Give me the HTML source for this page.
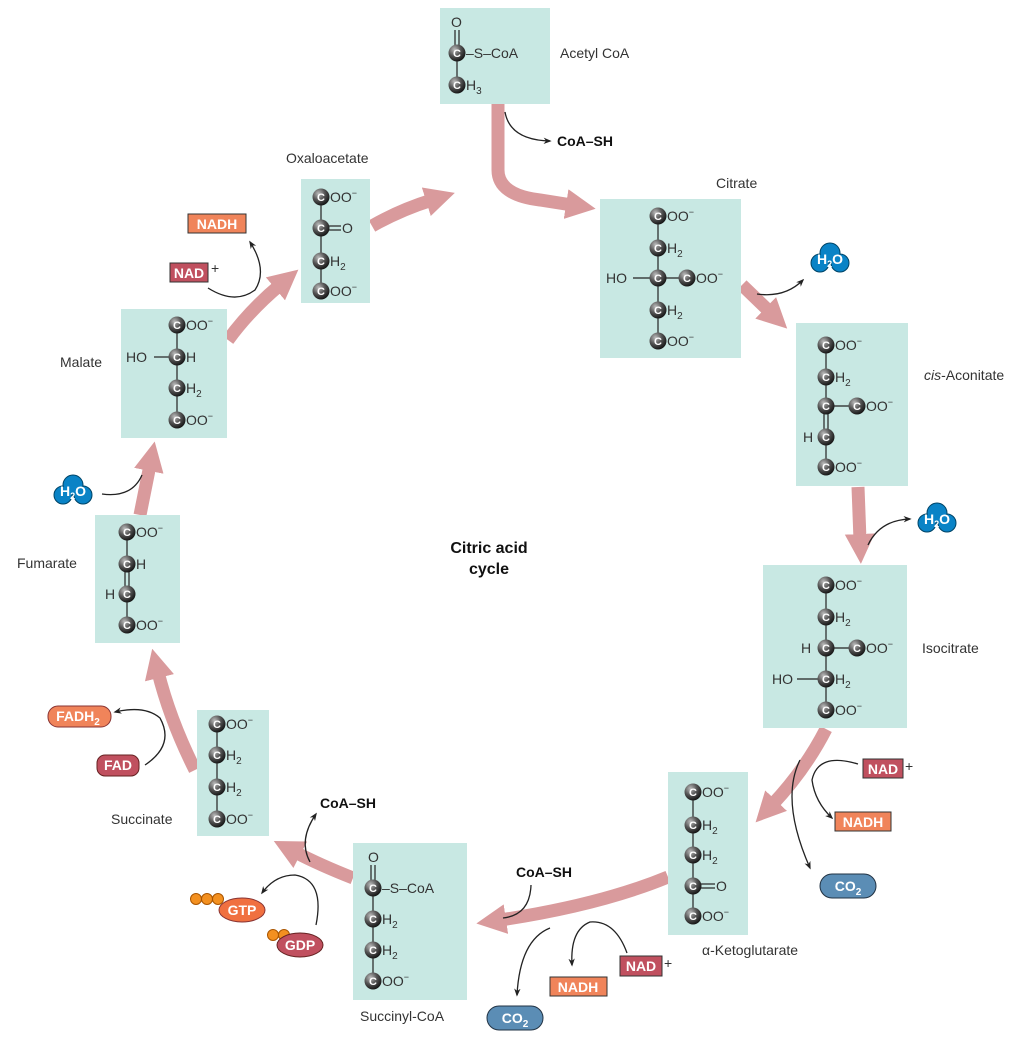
<!DOCTYPE html>
<html><head><meta charset="utf-8"><style>
html,body{margin:0;padding:0;background:#fff}
svg{display:block}
.c{font:bold 11px "Liberation Sans",sans-serif;fill:#fff;text-anchor:middle}
.t{font:14px "Liberation Sans",sans-serif;fill:#333}
.l{font:14px "Liberation Sans",sans-serif;fill:#333}
.b{font:bold 14px "Liberation Sans",sans-serif;fill:#111}
.w{font:bold 14px "Liberation Sans",sans-serif;fill:#fff;text-anchor:middle}
.box{fill:#c8e8e3}
.bond{stroke:#222;stroke-width:1.2}
.pk{fill:none;stroke:#d99a9c;stroke-width:13;marker-end:url(#pa)}
.bk{fill:none;stroke:#222;stroke-width:1.3;marker-end:url(#ba)}
</style></head><body>
<svg width="1026" height="1044" viewBox="0 0 1026 1044" xmlns="http://www.w3.org/2000/svg">
<defs>
<radialGradient id="g" cx="0.35" cy="0.3" r="0.75"><stop offset="0" stop-color="#bbb"/><stop offset="0.5" stop-color="#555"/><stop offset="1" stop-color="#111"/></radialGradient>
<g id="c"><circle r="8.5" fill="url(#g)"/></g>
<marker id="pa" viewBox="0 0 10 10" refX="2" refY="5" markerWidth="2.3" markerHeight="2.6" orient="auto"><path d="M0,0 L10,5 L0,10 z" fill="#d99a9c"/></marker>
<marker id="ba" viewBox="0 0 10 10" refX="8" refY="5" markerWidth="8" markerHeight="8" markerUnits="userSpaceOnUse" orient="auto"><path d="M0,1 L10,5 L0,9 L3,5 z" fill="#222"/></marker>
</defs>

<!-- pink arrows -->
<path class="pk" d="M498,104 L498,170 Q498,195 540,200 L572,205"/>
<path class="pk" d="M372,226 Q400,210 432,200"/>
<path class="pk" d="M742,285 L770,312"/>
<path class="pk" d="M858,487 L860,540"/>
<path class="pk" d="M826,729 Q805,770 772,805"/>
<path class="pk" d="M668,877 Q600,905 500,920"/>
<path class="pk" d="M353,878 Q320,865 295,852"/>
<path class="pk" d="M195,770 Q170,720 158,672"/>
<path class="pk" d="M140,515 L150,465"/>
<path class="pk" d="M228,340 Q250,310 280,285"/>

<!-- boxes -->
<rect class="box" x="440" y="8" width="110" height="96"/>
<rect class="box" x="600" y="199" width="141" height="159"/>
<rect class="box" x="796" y="323" width="112" height="163"/>
<rect class="box" x="763" y="565" width="144" height="163"/>
<rect class="box" x="668" y="772" width="80" height="163"/>
<rect class="box" x="353" y="843" width="114" height="157"/>
<rect class="box" x="197" y="710" width="72" height="126"/>
<rect class="box" x="95" y="515" width="85" height="128"/>
<rect class="box" x="121" y="309" width="106" height="129"/>
<rect class="box" x="301" y="179" width="69" height="124"/>

<!-- Acetyl CoA -->
<line class="bond" x1="455" y1="30" x2="455" y2="48"/><line class="bond" x1="459" y1="30" x2="459" y2="48"/>
<line class="bond" x1="457" y1="53" x2="457" y2="85"/>
<text class="t" x="451" y="27">O</text>
<use href="#c" x="457" y="53"/><text class="c" x="457" y="57">C</text>
<text class="t" x="466" y="58">–S–CoA</text>
<use href="#c" x="457" y="85"/><text class="c" x="457" y="89">C</text>
<text class="t" x="466" y="90">H<tspan font-size="10" dy="4">3</tspan></text>
<text class="l" x="560" y="58">Acetyl CoA</text>
<path class="bk" d="M505,112 Q510,140 550,141"/>
<text class="b" x="557" y="146">CoA–SH</text>

<!-- Citrate -->
<line class="bond" x1="658" y1="216" x2="658" y2="341"/>
<line class="bond" x1="633" y1="278" x2="687" y2="278"/>
<use href="#c" x="658" y="216"/><text class="c" x="658" y="220">C</text><text class="t" x="667" y="221">OO<tspan font-size="9" dy="-6">−</tspan></text>
<use href="#c" x="658" y="248"/><text class="c" x="658" y="252">C</text><text class="t" x="667" y="253">H<tspan font-size="10" dy="4">2</tspan></text>
<text class="t" x="606" y="283">HO</text>
<use href="#c" x="658" y="278"/><text class="c" x="658" y="282">C</text>
<use href="#c" x="687" y="278"/><text class="c" x="687" y="282">C</text><text class="t" x="696" y="283">OO<tspan font-size="9" dy="-6">−</tspan></text>
<use href="#c" x="658" y="310"/><text class="c" x="658" y="314">C</text><text class="t" x="667" y="315">H<tspan font-size="10" dy="4">2</tspan></text>
<use href="#c" x="658" y="341"/><text class="c" x="658" y="345">C</text><text class="t" x="667" y="346">OO<tspan font-size="9" dy="-6">−</tspan></text>
<text class="l" x="716" y="188">Citrate</text>
<path class="bk" d="M757,294 Q785,298 803,280"/>

<!-- cis-Aconitate -->
<line class="bond" x1="826" y1="345" x2="826" y2="406"/>
<line class="bond" x1="824" y1="406" x2="824" y2="437"/><line class="bond" x1="828" y1="406" x2="828" y2="437"/>
<line class="bond" x1="826" y1="437" x2="826" y2="467"/>
<line class="bond" x1="826" y1="406" x2="857" y2="406"/>
<use href="#c" x="826" y="345"/><text class="c" x="826" y="349">C</text><text class="t" x="835" y="350">OO<tspan font-size="9" dy="-6">−</tspan></text>
<use href="#c" x="826" y="377"/><text class="c" x="826" y="381">C</text><text class="t" x="835" y="382">H<tspan font-size="10" dy="4">2</tspan></text>
<use href="#c" x="826" y="406"/><text class="c" x="826" y="410">C</text>
<use href="#c" x="857" y="406"/><text class="c" x="857" y="410">C</text><text class="t" x="866" y="411">OO<tspan font-size="9" dy="-6">−</tspan></text>
<text class="t" x="803" y="442">H</text>
<use href="#c" x="826" y="437"/><text class="c" x="826" y="441">C</text>
<use href="#c" x="826" y="467"/><text class="c" x="826" y="471">C</text><text class="t" x="835" y="472">OO<tspan font-size="9" dy="-6">−</tspan></text>
<text class="l" x="924" y="380"><tspan font-style="italic">cis</tspan>-Aconitate</text>
<path class="bk" d="M868,545 Q880,520 910,519"/>

<!-- Isocitrate -->
<line class="bond" x1="826" y1="585" x2="826" y2="710"/>
<line class="bond" x1="826" y1="648" x2="857" y2="648"/>
<line class="bond" x1="797" y1="679" x2="818" y2="679"/>
<use href="#c" x="826" y="585"/><text class="c" x="826" y="589">C</text><text class="t" x="835" y="590">OO<tspan font-size="9" dy="-6">−</tspan></text>
<use href="#c" x="826" y="617"/><text class="c" x="826" y="621">C</text><text class="t" x="835" y="622">H<tspan font-size="10" dy="4">2</tspan></text>
<text class="t" x="801" y="653">H</text>
<use href="#c" x="826" y="648"/><text class="c" x="826" y="652">C</text>
<use href="#c" x="857" y="648"/><text class="c" x="857" y="652">C</text><text class="t" x="866" y="653">OO<tspan font-size="9" dy="-6">−</tspan></text>
<text class="t" x="772" y="684">HO</text>
<use href="#c" x="826" y="679"/><text class="c" x="826" y="683">C</text><text class="t" x="835" y="684">H<tspan font-size="10" dy="4">2</tspan></text>
<use href="#c" x="826" y="710"/><text class="c" x="826" y="714">C</text><text class="t" x="835" y="715">OO<tspan font-size="9" dy="-6">−</tspan></text>
<text class="l" x="922" y="653">Isocitrate</text>

<!-- NAD+/NADH/CO2 right -->
<path class="bk" d="M858,764 Q818,752 812,780 Q815,802 832,818"/>
<path class="bk" d="M800,760 Q780,800 810,868"/>
<rect x="863" y="759" width="40" height="19" fill="#c0505f" stroke="#333"/><text class="w" x="883" y="774">NAD</text><text class="t" x="905" y="771" fill="#27a">+</text>
<rect x="835" y="812" width="56" height="19" fill="#f0845a" stroke="#333"/><text class="w" x="863" y="827">NADH</text>
<g fill="#5b8db5" stroke="#234"><circle cx="832" cy="886" r="12"/><circle cx="864" cy="886" r="12"/><rect x="832" y="874" width="32" height="24" stroke="none"/></g>
<line x1="832" y1="874" x2="864" y2="874" stroke="#234"/><line x1="832" y1="898" x2="864" y2="898" stroke="#234"/>
<text class="w" x="848" y="891">CO<tspan font-size="10" dy="4">2</tspan></text>

<!-- alpha-KG -->
<line class="bond" x1="693" y1="792" x2="693" y2="916"/>
<line class="bond" x1="701" y1="884" x2="715" y2="884"/><line class="bond" x1="701" y1="888" x2="715" y2="888"/>
<use href="#c" x="693" y="792"/><text class="c" x="693" y="796">C</text><text class="t" x="702" y="797">OO<tspan font-size="9" dy="-6">−</tspan></text>
<use href="#c" x="693" y="825"/><text class="c" x="693" y="829">C</text><text class="t" x="702" y="830">H<tspan font-size="10" dy="4">2</tspan></text>
<use href="#c" x="693" y="855"/><text class="c" x="693" y="859">C</text><text class="t" x="702" y="860">H<tspan font-size="10" dy="4">2</tspan></text>
<use href="#c" x="693" y="886"/><text class="c" x="693" y="890">C</text><text class="t" x="716" y="891">O</text>
<use href="#c" x="693" y="916"/><text class="c" x="693" y="920">C</text><text class="t" x="702" y="921">OO<tspan font-size="9" dy="-6">−</tspan></text>
<text class="l" x="702" y="955">α-Ketoglutarate</text>

<!-- bottom cofactors -->
<text class="b" x="516" y="877">CoA–SH</text>
<path d="M531,885 Q530,915 503,918" fill="none" stroke="#222" stroke-width="1.3"/>
<path class="bk" d="M550,928 Q520,940 517,995"/>
<path class="bk" d="M627,953 Q615,920 590,922 Q570,930 572,965"/>
<rect x="620" y="956" width="42" height="20" fill="#c0505f" stroke="#333"/><text class="w" x="641" y="971">NAD</text><text class="t" x="664" y="968" fill="#a25">+</text>
<rect x="550" y="977" width="57" height="19" fill="#f0845a" stroke="#333"/><text class="w" x="578" y="992">NADH</text>
<g fill="#5b8db5" stroke="#234"><circle cx="499" cy="1018" r="12"/><circle cx="531" cy="1018" r="12"/><rect x="499" y="1006" width="32" height="24" stroke="none"/></g>
<line x1="499" y1="1006" x2="531" y2="1006" stroke="#234"/><line x1="499" y1="1030" x2="531" y2="1030" stroke="#234"/>
<text class="w" x="515" y="1023">CO<tspan font-size="10" dy="4">2</tspan></text>

<!-- Succinyl-CoA -->
<line class="bond" x1="371" y1="865" x2="371" y2="883"/><line class="bond" x1="375" y1="865" x2="375" y2="883"/>
<line class="bond" x1="373" y1="888" x2="373" y2="981"/>
<text class="t" x="368" y="862">O</text>
<use href="#c" x="373" y="888"/><text class="c" x="373" y="892">C</text><text class="t" x="382" y="893">–S–CoA</text>
<use href="#c" x="373" y="919"/><text class="c" x="373" y="923">C</text><text class="t" x="382" y="924">H<tspan font-size="10" dy="4">2</tspan></text>
<use href="#c" x="373" y="950"/><text class="c" x="373" y="954">C</text><text class="t" x="382" y="955">H<tspan font-size="10" dy="4">2</tspan></text>
<use href="#c" x="373" y="981"/><text class="c" x="373" y="985">C</text><text class="t" x="382" y="986">OO<tspan font-size="9" dy="-6">−</tspan></text>
<text class="l" x="360" y="1021">Succinyl-CoA</text>

<text class="b" x="320" y="808">CoA–SH</text>
<path class="bk" d="M310,862 Q298,840 316,814"/>
<path class="bk" d="M316,925 Q325,880 295,875 Q275,875 262,893"/>
<circle cx="196" cy="899" r="5.5" fill="#f39020" stroke="#a50"/><circle cx="207" cy="899" r="5.5" fill="#f39020" stroke="#a50"/><circle cx="218" cy="899" r="5.5" fill="#f39020" stroke="#a50"/>
<ellipse cx="242" cy="910" rx="23" ry="12" fill="#f07040" stroke="#833"/><text class="w" x="242" y="915">GTP</text>
<circle cx="273" cy="935" r="5.5" fill="#f39020" stroke="#a50"/><circle cx="284" cy="935" r="5.5" fill="#f39020" stroke="#a50"/>
<ellipse cx="300" cy="945" rx="23" ry="12" fill="#c0505f" stroke="#622"/><text class="w" x="300" y="950">GDP</text>

<!-- Succinate -->
<line class="bond" x1="217" y1="724" x2="217" y2="819"/>
<use href="#c" x="217" y="724"/><text class="c" x="217" y="728">C</text><text class="t" x="226" y="729">OO<tspan font-size="9" dy="-6">−</tspan></text>
<use href="#c" x="217" y="755"/><text class="c" x="217" y="759">C</text><text class="t" x="226" y="760">H<tspan font-size="10" dy="4">2</tspan></text>
<use href="#c" x="217" y="787"/><text class="c" x="217" y="791">C</text><text class="t" x="226" y="792">H<tspan font-size="10" dy="4">2</tspan></text>
<use href="#c" x="217" y="819"/><text class="c" x="217" y="823">C</text><text class="t" x="226" y="824">OO<tspan font-size="9" dy="-6">−</tspan></text>
<text class="l" x="111" y="824">Succinate</text>
<path class="bk" d="M145,765 Q175,745 160,718 Q145,705 115,712"/>
<rect x="48" y="706" width="63" height="21" rx="10" fill="#f0845a" stroke="#833"/><text class="w" x="78" y="721">FADH<tspan font-size="10" dy="4">2</tspan></text>
<rect x="97" y="755" width="42" height="21" rx="8" fill="#c0505f" stroke="#622"/><text class="w" x="118" y="770">FAD</text>

<!-- Fumarate -->
<line class="bond" x1="127" y1="532" x2="127" y2="564"/>
<line class="bond" x1="125" y1="564" x2="125" y2="594"/><line class="bond" x1="129" y1="564" x2="129" y2="594"/>
<line class="bond" x1="127" y1="594" x2="127" y2="625"/>
<use href="#c" x="127" y="532"/><text class="c" x="127" y="536">C</text><text class="t" x="136" y="537">OO<tspan font-size="9" dy="-6">−</tspan></text>
<use href="#c" x="127" y="564"/><text class="c" x="127" y="568">C</text><text class="t" x="136" y="569">H</text>
<text class="t" x="105" y="599">H</text>
<use href="#c" x="127" y="594"/><text class="c" x="127" y="598">C</text>
<use href="#c" x="127" y="625"/><text class="c" x="127" y="629">C</text><text class="t" x="136" y="630">OO<tspan font-size="9" dy="-6">−</tspan></text>
<text class="l" x="17" y="568">Fumarate</text>

<!-- H2O clouds -->
<g fill="#0a83c6" stroke="#046"><circle cx="820" cy="263" r="9"/><circle cx="840" cy="263" r="9"/><circle cx="830" cy="253" r="10"/></g>
<g fill="#0a83c6"><circle cx="820" cy="263" r="8"/><circle cx="840" cy="263" r="8"/><circle cx="830" cy="253" r="9"/></g>
<text class="w" x="830" y="264" font-size="13">H<tspan font-size="9" dy="3">2</tspan><tspan dy="-3">O</tspan></text>
<g fill="#0a83c6" stroke="#046"><circle cx="927" cy="523" r="9"/><circle cx="947" cy="523" r="9"/><circle cx="937" cy="513" r="10"/></g>
<g fill="#0a83c6"><circle cx="927" cy="523" r="8"/><circle cx="947" cy="523" r="8"/><circle cx="937" cy="513" r="9"/></g>
<text class="w" x="937" y="524" font-size="13">H<tspan font-size="9" dy="3">2</tspan><tspan dy="-3">O</tspan></text>
<g fill="#0a83c6" stroke="#046"><circle cx="63" cy="495" r="9"/><circle cx="83" cy="495" r="9"/><circle cx="73" cy="485" r="10"/></g>
<g fill="#0a83c6"><circle cx="63" cy="495" r="8"/><circle cx="83" cy="495" r="8"/><circle cx="73" cy="485" r="9"/></g>
<text class="w" x="73" y="496" font-size="13">H<tspan font-size="9" dy="3">2</tspan><tspan dy="-3">O</tspan></text>
<path d="M102,494 Q132,498 142,475" fill="none" stroke="#222" stroke-width="1.3"/>

<!-- Malate -->
<line class="bond" x1="177" y1="325" x2="177" y2="420"/>
<line class="bond" x1="154" y1="357" x2="169" y2="357"/>
<use href="#c" x="177" y="325"/><text class="c" x="177" y="329">C</text><text class="t" x="186" y="330">OO<tspan font-size="9" dy="-6">−</tspan></text>
<text class="t" x="126" y="362">HO</text>
<use href="#c" x="177" y="357"/><text class="c" x="177" y="361">C</text><text class="t" x="186" y="362">H</text>
<use href="#c" x="177" y="388"/><text class="c" x="177" y="392">C</text><text class="t" x="186" y="393">H<tspan font-size="10" dy="4">2</tspan></text>
<use href="#c" x="177" y="420"/><text class="c" x="177" y="424">C</text><text class="t" x="186" y="425">OO<tspan font-size="9" dy="-6">−</tspan></text>
<text class="l" x="60" y="367">Malate</text>

<!-- NAD/NADH top-left -->
<path class="bk" d="M208,288 Q235,305 255,290 Q268,270 250,242"/>
<rect x="170" y="263" width="38" height="19" fill="#c0505f" stroke="#333"/><text class="w" x="189" y="278">NAD</text><text class="t" x="211" y="273">+</text>
<rect x="188" y="214" width="58" height="19" fill="#f0845a" stroke="#333"/><text class="w" x="217" y="229">NADH</text>

<!-- Oxaloacetate -->
<line class="bond" x1="321" y1="197" x2="321" y2="291"/>
<line class="bond" x1="329" y1="226" x2="341" y2="226"/><line class="bond" x1="329" y1="230" x2="341" y2="230"/>
<use href="#c" x="321" y="197"/><text class="c" x="321" y="201">C</text><text class="t" x="330" y="202">OO<tspan font-size="9" dy="-6">−</tspan></text>
<use href="#c" x="321" y="228"/><text class="c" x="321" y="232">C</text><text class="t" x="342" y="233">O</text>
<use href="#c" x="321" y="261"/><text class="c" x="321" y="265">C</text><text class="t" x="330" y="266">H<tspan font-size="10" dy="4">2</tspan></text>
<use href="#c" x="321" y="291"/><text class="c" x="321" y="295">C</text><text class="t" x="330" y="296">OO<tspan font-size="9" dy="-6">−</tspan></text>
<text class="l" x="286" y="163">Oxaloacetate</text>

<!-- center -->
<text class="b" x="489" y="553" text-anchor="middle" font-size="16" style="font-size:16px">Citric acid</text>
<text class="b" x="489" y="574" text-anchor="middle" style="font-size:16px">cycle</text>
</svg>
</body></html>
